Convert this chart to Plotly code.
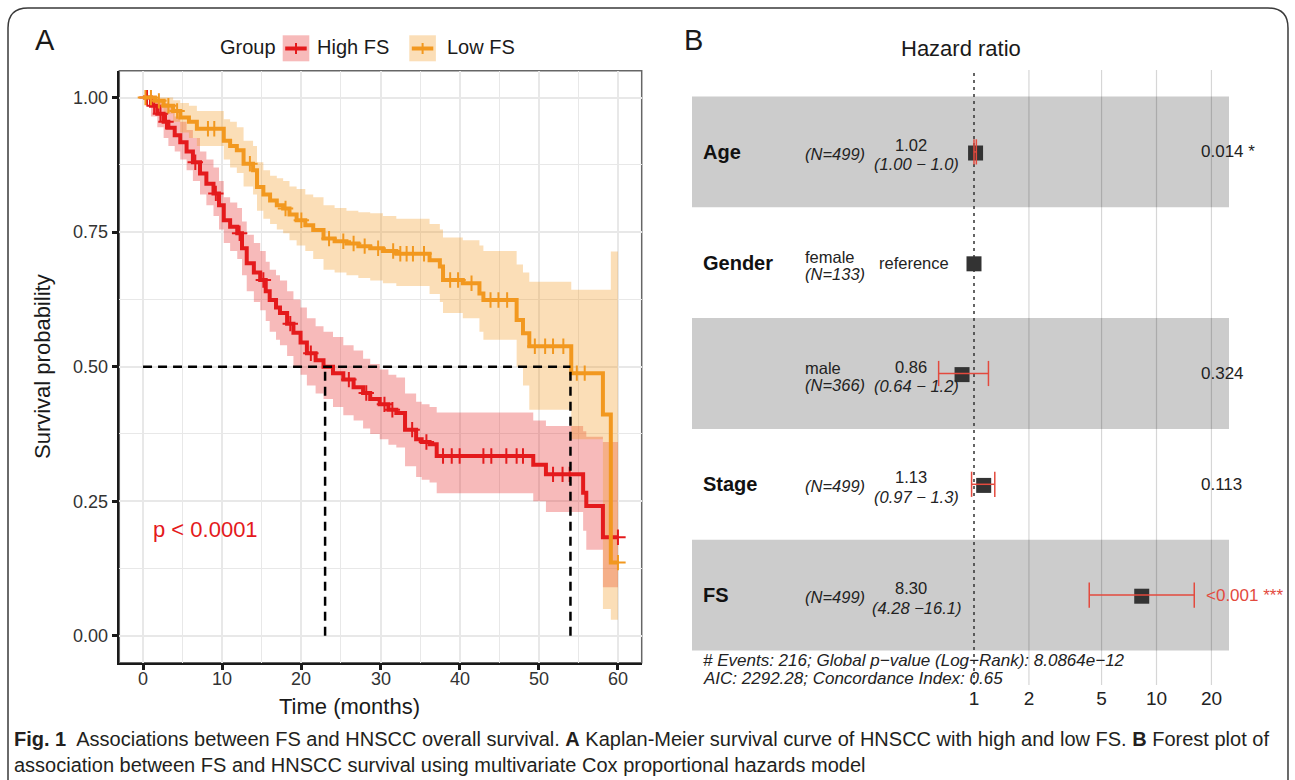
import numpy as np
import plotly.graph_objects as go

W, H = 1295, 780
FONT = "Liberation Sans, Arial, Helvetica, sans-serif"

# ---------------- Panel A : Kaplan-Meier data ----------------
t_end = 60
high_t = [0, 1.0, 1.8, 2.6, 3.2, 4.0, 4.7, 5.5, 6.3, 7.2, 8.0, 8.9, 9.6, 10.2, 11.0, 11.9, 12.5,
          13.1, 14.0, 14.8, 15.5, 16.0, 16.8, 17.3, 18.2, 19.0, 19.9, 20.7, 21.8, 22.8, 24.0,
          25.3, 26.6, 27.8, 28.7, 29.9, 31.0, 32.0, 33.1, 34.5, 35.2, 36.2, 37.1, 49.3, 50.9,
          55.6, 56.0, 58.1]
high_s = [1.0, 0.985, 0.97, 0.955, 0.944, 0.93, 0.917, 0.9, 0.88, 0.859, 0.84, 0.822, 0.8,
          0.772, 0.76, 0.748, 0.72, 0.692, 0.675, 0.661, 0.64, 0.624, 0.61, 0.6, 0.58, 0.563,
          0.545, 0.525, 0.512, 0.5, 0.488, 0.476, 0.462, 0.451, 0.44, 0.43, 0.42, 0.414, 0.383,
          0.365, 0.36, 0.356, 0.334, 0.318, 0.3, 0.266, 0.241, 0.183]
high_lo = [1.0, 0.965, 0.945, 0.925, 0.91, 0.9, 0.885, 0.865, 0.845, 0.82, 0.8, 0.78, 0.755,
           0.73, 0.715, 0.7, 0.67, 0.64, 0.62, 0.605, 0.585, 0.565, 0.55, 0.54, 0.52, 0.5,
           0.485, 0.465, 0.45, 0.44, 0.425, 0.41, 0.4, 0.385, 0.375, 0.365, 0.355, 0.35, 0.315,
           0.295, 0.29, 0.285, 0.265, 0.25, 0.23, 0.195, 0.16, 0.09]
high_hi = [1.0, 1.0, 0.995, 0.99, 0.98, 0.965, 0.955, 0.94, 0.925, 0.9, 0.885, 0.87, 0.845,
           0.815, 0.805, 0.795, 0.77, 0.745, 0.73, 0.715, 0.695, 0.68, 0.67, 0.66, 0.64, 0.625,
           0.61, 0.59, 0.575, 0.565, 0.555, 0.54, 0.53, 0.515, 0.505, 0.495, 0.485, 0.48, 0.45,
           0.435, 0.43, 0.425, 0.415, 0.4, 0.39, 0.38, 0.37, 0.36]
high_cens = [0.5, 1.4, 2.2, 2.9, 6.6, 9.2, 12.2, 15.2, 18.6, 21.2, 26.0, 28.2, 30.5, 31.5, 34.0,
             35.8, 37.9, 39.0, 40.0, 43.0, 44.0, 45.9, 47.2, 48.0, 51.8, 53.0, 53.9, 60.0]

low_t = [0, 1.5, 2.6, 3.8, 4.7, 5.8, 6.8, 10.2, 11.0, 11.85, 12.7, 13.9, 14.4, 15.2, 16.05,
         16.9, 17.7, 18.5, 19.4, 20.5, 21.5, 22.8, 24.2, 25.7, 27.2, 28.7, 30.3, 32.0, 36.2,
         37.5, 37.9, 40.4, 42.5, 43.0, 47.2, 48.0, 48.8, 54.1, 58.1, 59.1]
low_s = [1.0, 0.994, 0.985, 0.975, 0.963, 0.955, 0.942, 0.92, 0.91, 0.902, 0.877, 0.865, 0.834,
         0.82, 0.809, 0.80, 0.794, 0.783, 0.772, 0.763, 0.754, 0.738, 0.733, 0.729, 0.724, 0.72,
         0.715, 0.71, 0.698, 0.686, 0.661, 0.655, 0.636, 0.624, 0.587, 0.562, 0.538, 0.488,
         0.411, 0.136]
low_lo = [1.0, 0.985, 0.97, 0.955, 0.935, 0.925, 0.91, 0.885, 0.87, 0.86, 0.835, 0.82, 0.79,
          0.775, 0.765, 0.755, 0.748, 0.735, 0.725, 0.715, 0.70, 0.68, 0.675, 0.67, 0.665, 0.66,
          0.655, 0.65, 0.635, 0.62, 0.60, 0.59, 0.565, 0.55, 0.50, 0.465, 0.42, 0.365, 0.05,
          0.03]
low_hi = [1.0, 1.0, 1.0, 0.995, 0.99, 0.985, 0.975, 0.96, 0.955, 0.945, 0.92, 0.91, 0.88,
          0.865, 0.855, 0.85, 0.845, 0.835, 0.83, 0.82, 0.815, 0.80, 0.795, 0.79, 0.787, 0.785,
          0.78, 0.775, 0.765, 0.755, 0.74, 0.735, 0.725, 0.715, 0.69, 0.675, 0.658, 0.643,
          0.643, 0.714]
low_cens = [0.3, 1.0, 2.0, 3.2, 4.3, 8.2, 9.0, 13.5, 18.0, 20.0, 23.5, 25.3, 26.6, 28.0, 29.7,
            31.6, 32.5, 33.3, 34.1, 35.5, 38.8, 39.8, 41.5, 43.9, 44.9, 46.0, 49.5, 50.8, 51.8,
            53.1, 54.8, 55.8, 60.0]

median_high = 23
median_low = 54
median_surv = 0.5
p_text = "p < 0.0001"
x_ticks = [0, 10, 20, 30, 40, 50, 60]
y_ticks = [0, 0.25, 0.5, 0.75, 1.0]
y_ticklabels = ["0.00", "0.25", "0.50", "0.75", "1.00"]
groups = ["High FS", "Low FS"]

# ---------------- Panel B : Cox forest data ----------------
f_var = ["Age", "Gender", "", "Stage", "FS"]
f_level = ["", "female", "male", "", ""]
f_n = [499, 133, 366, 499, 499]
f_hr = [1.02, 1.0, 0.86, 1.13, 8.30]
f_lo = [1.00, None, 0.64, 0.97, 4.28]
f_hi = [1.03, None, 1.2, 1.3, 16.1]
f_hr_txt = ["1.02", "reference", "0.86", "1.13", "8.30"]
f_ci_txt = ["(1.00 \u2212 1.0)", "", "(0.64 \u2212 1.2)", "(0.97 \u2212 1.3)", "(4.28 \u221216.1)"]
f_p_txt = ["0.014 *", "", "0.324", "0.113", "<0.001 ***"]
hr_ticks = [1, 2, 5, 10, 20]
footer = ["# Events: 216; Global p\u2212value (Log\u2212Rank): 8.0864e\u221212",
          "AIC: 2292.28; Concordance Index: 0.65"]

RED = "#E41A1C"
ORANGE = "#F2981F"
RED_FILL = "rgba(228,26,28,0.30)"
OR_FILL = "rgba(242,152,31,0.32)"
CI_RED = "#E34A3E"

def py(p):
    return 1 - p / H

def pxf(p):
    return p / W

fig = go.Figure()

# ---- KM ribbons ----
for t, lo, hi, fill in [(high_t, high_lo, high_hi, RED_FILL), (low_t, low_lo, low_hi, OR_FILL)]:
    tx = list(t) + [t_end]
    fig.add_trace(go.Scatter(x=tx, y=list(lo) + [lo[-1]], mode="lines", line=dict(width=0, shape="hv"),
                             hoverinfo="skip", showlegend=False, xaxis="x", yaxis="y"))
    fig.add_trace(go.Scatter(x=tx, y=list(hi) + [hi[-1]], mode="lines", line=dict(width=0, shape="hv"),
                             fill="tonexty", fillcolor=fill, hoverinfo="skip", showlegend=False,
                             xaxis="x", yaxis="y"))

# ---- KM step curves + censor marks ----
for t, s, cens, col in [(high_t, high_s, high_cens, RED), (low_t, low_s, low_cens, ORANGE)]:
    fig.add_trace(go.Scatter(x=list(t) + [t_end], y=list(s) + [s[-1]], mode="lines",
                             line=dict(color=col, width=4, shape="hv"), showlegend=False,
                             xaxis="x", yaxis="y"))
    idx = np.searchsorted(np.array(t), np.array(cens), side="right") - 1
    cy = np.array(s)[idx]
    fig.add_trace(go.Scatter(x=cens, y=cy, mode="markers",
                             marker=dict(symbol="cross-thin", size=11, line=dict(color=col, width=2)),
                             showlegend=False, xaxis="x", yaxis="y"))

# ---- median lines ----
dash_style = dict(color="black", width=2.5, dash="9px,6px")
fig.add_trace(go.Scatter(x=[0, median_low], y=[median_surv, median_surv], mode="lines",
                         line=dash_style, showlegend=False, xaxis="x", yaxis="y"))
for m in [median_high, median_low]:
    fig.add_trace(go.Scatter(x=[m, m], y=[0, median_surv], mode="lines", line=dash_style,
                             showlegend=False, xaxis="x", yaxis="y"))

# ---------------- Panel B geometry (log10 units on x2, row index on y2) ----------------
X1PX, DEC = 974.0, 182.5        # pixel of HR=1, pixels per decade
ROW0, ROWH = 151.9, 110.8       # pixel of first row centre, row height

def lx(p):
    return (p - X1PX) / DEC

xb_range = [lx(690), lx(1290)]
yb_range = [(685 - ROW0) / ROWH, (70 - ROW0) / ROWH]

shapes = []
# alternating grey bands
for i in range(len(f_var)):
    if i % 2 == 0:
        shapes.append(dict(type="rect", xref="x2", yref="y2", x0=lx(692), x1=lx(1229),
                           y0=i - 0.5, y1=i + 0.5, fillcolor="#CCCCCC", line=dict(width=0),
                           layer="below"))

# grid lines at ticks (except 1) and dashed reference line
for v in hr_ticks[1:]:
    fig.add_trace(go.Scatter(x=[np.log10(v)] * 2, y=yb_range, mode="lines",
                             line=dict(color="rgba(0,0,0,0.16)", width=1.2), showlegend=False,
                             hoverinfo="skip", xaxis="x2", yaxis="y2"))
fig.add_trace(go.Scatter(x=[0, 0], y=[yb_range[0], yb_range[1] + 0.02], mode="lines",
                         line=dict(color="#333333", width=1.5, dash="3px,4px"), showlegend=False,
                         hoverinfo="skip", xaxis="x2", yaxis="y2"))

# squares
rows = list(range(len(f_var)))
fig.add_trace(go.Scatter(x=np.log10(f_hr), y=[r + 0.01 for r in rows], mode="markers",
                         marker=dict(symbol="square", size=15, color="#333333"),
                         showlegend=False, xaxis="x2", yaxis="y2"))
# CIs (drawn on top)
cx, cyy, capx, capy = [], [], [], []
for r, lo, hi in zip(rows, f_lo, f_hi):
    if lo is None:
        continue
    cx += [np.log10(lo), np.log10(hi), None]
    cyy += [r, r, None]
    capx += [np.log10(lo), np.log10(hi)]
    capy += [r, r]
fig.add_trace(go.Scatter(x=cx, y=cyy, mode="lines", line=dict(color=CI_RED, width=1.5),
                         showlegend=False, xaxis="x2", yaxis="y2"))
fig.add_trace(go.Scatter(x=capx, y=capy, mode="markers",
                         marker=dict(symbol="line-ns", size=18, line=dict(color=CI_RED, width=1.5)),
                         showlegend=False, xaxis="x2", yaxis="y2"))

annotations = []

def ann(text, x, y, size, color="#1a1a1a", xanchor="center", xref="paper", yref="paper",
        textangle=0, yanchor="middle"):
    annotations.append(dict(text=text, x=x, y=y, xref=xref, yref=yref, showarrow=False,
                            xanchor=xanchor, yanchor=yanchor, textangle=textangle, borderpad=0,
                            font=dict(family=FONT, size=size, color=color)))

FS_SMALL = 16.5
for i in rows:
    if f_var[i]:
        ann("<b>%s</b>" % f_var[i], pxf(702), i, 20, "#111111", "left", yref="y2")
    if f_level[i]:
        ann(f_level[i], pxf(804), i - 6 / ROWH, FS_SMALL, "#222222", "left", yref="y2")
        ann("<i>(N=%d)</i>" % f_n[i], pxf(804), i + 11.5 / ROWH, FS_SMALL, "#222222", "left", yref="y2")
    else:
        ann("<i>(N=%d)</i>" % f_n[i], pxf(804), i + 2 / ROWH, FS_SMALL, "#222222", "left", yref="y2")
    if f_ci_txt[i]:
        ann(f_hr_txt[i], pxf(911), i - 7 / ROWH, FS_SMALL, "#222222", "center", yref="y2")
        ann("<i>%s</i>" % f_ci_txt[i], pxf(916), i + 12.5 / ROWH, FS_SMALL, "#222222", "center", yref="y2")
    else:
        ann(f_hr_txt[i], pxf(914), i, FS_SMALL, "#222222", "center", yref="y2")
    if f_p_txt[i]:
        red = "***" in f_p_txt[i]
        ann(f_p_txt[i], pxf(1205 if red else 1200), i, 17, CI_RED if red else "#222222", "left",
            yref="y2")

ann("<i>%s</i>" % footer[0], pxf(702), py(660), 17, "#222222", "left")
ann("<i>%s</i>" % footer[1], pxf(702), py(678), 17, "#222222", "left")
ann("Hazard ratio", pxf(961), py(48), 22, "#1a1a1a")

# ---- Panel A texts ----
ann(p_text, 1.14, 0.197, 22, RED, "left", xref="x", yref="y")
ann("Survival probability", pxf(42), py(367), 22, "#1a1a1a", textangle=-90)
ann("Time (months)", pxf(349), py(706), 22, "#1a1a1a")
ann("A", pxf(45), py(40), 29, "#1a1a1a")
ann("B", pxf(693), py(40), 29, "#1a1a1a")
# x tick labels of panel A (placed at the tick values)
for v in x_ticks:
    ann(str(v), v, py(679), 18, "#333333", "center", xref="x")

# legend (Group)
ann("Group", pxf(277), py(47), 20, "#1a1a1a", "right")
ann(groups[0], pxf(316), py(47), 20, "#1a1a1a", "left")
ann(groups[1], pxf(446), py(47), 20, "#1a1a1a", "left")
for x0, fill, col in [(282.7, RED_FILL, RED), (409.3, OR_FILL, ORANGE)]:
    shapes.append(dict(type="rect", xref="paper", yref="paper", x0=pxf(x0), x1=pxf(x0 + 26.6),
                       y0=py(61.3), y1=py(35.3), fillcolor=fill, line=dict(width=0)))
    shapes.append(dict(type="line", xref="paper", yref="paper", x0=pxf(x0 + 2.5), x1=pxf(x0 + 24),
                       y0=py(48.5), y1=py(48.5), line=dict(color=col, width=4)))
    shapes.append(dict(type="line", xref="paper", yref="paper", x0=pxf(x0 + 13.3), x1=pxf(x0 + 13.3),
                       y0=py(43), y1=py(54), line=dict(color=col, width=2)))

# panel A border (top/right grey)
shapes.append(dict(type="rect", xref="x domain", yref="y domain", x0=0, x1=1, y0=0, y1=1,
                   line=dict(color="#666666", width=1.5), layer="below"))

# outer rounded frame
def P(x, y):
    return "%.5f,%.5f" % (x / W, 1 - y / H)
r = 20
L, T, R, B = 8, 8, 1288, 800
path = ("M " + P(L, B) + " L " + P(L, T + r) + " Q " + P(L, T) + " " + P(L + r, T) +
        " L " + P(R - r, T) + " Q " + P(R, T) + " " + P(R, T + r) + " L " + P(R, B))
shapes.append(dict(type="path", xref="paper", yref="paper", path=path,
                   line=dict(color="#3a3a3a", width=1.5)))

# caption
ann("<b>Fig. 1</b>  Associations between FS and HNSCC overall survival. <b>A</b> Kaplan-Meier "
    "survival curve of HNSCC with high and low FS. <b>B</b> Forest plot of",
    pxf(13), py(739), 20, "#231f20", "left")
ann("association between FS and HNSCC survival using multivariate Cox proportional hazards model",
    pxf(13), py(765), 20, "#231f20", "left")

grid = "#E8E8E8"
fig.update_layout(
    width=W, height=H, margin=dict(l=0, r=0, t=0, b=0), autosize=False,
    paper_bgcolor="white", plot_bgcolor="rgba(0,0,0,0)", showlegend=False,
    font=dict(family=FONT),
    xaxis=dict(domain=[pxf(119.3), pxf(641.7)], range=[-3, 63], tickvals=x_ticks,
               showticklabels=False,
               showgrid=True, gridcolor=grid, gridwidth=1.5, zeroline=False,
               minor=dict(dtick=5, tick0=0, showgrid=True, gridcolor=grid, gridwidth=1.2),
               showline=True, linecolor="#1a1a1a", linewidth=1.5, ticks="outside", ticklen=6,
               tickwidth=2.5, tickcolor="#1a1a1a"),
    yaxis=dict(domain=[py(662.7), py(70.7)], range=[-0.05, 1.05], tickvals=y_ticks,
               ticktext=y_ticklabels, showgrid=True, gridcolor=grid, gridwidth=1.5, zeroline=False,
               minor=dict(dtick=0.125, tick0=0, showgrid=True, gridcolor=grid, gridwidth=1.2),
               showline=True, linecolor="#1a1a1a", linewidth=1.5, ticks="outside", ticklen=6,
               tickwidth=2.5, tickcolor="#1a1a1a", tickfont=dict(size=18, color="#333333")),
    xaxis2=dict(domain=[pxf(690), pxf(1290)], range=xb_range, tickvals=np.log10(hr_ticks),
                ticktext=[str(v) for v in hr_ticks], showgrid=False, zeroline=False,
                showline=False, ticks="", tickfont=dict(size=19, color="#222222"),
                anchor="y2"),
    yaxis2=dict(domain=[py(685), py(70)], range=yb_range, showgrid=False, zeroline=False,
                showline=False, showticklabels=False, ticks="", anchor="x2"),
    shapes=shapes, annotations=annotations,
)

fig.write_html("out.html", config={"displayModeBar": False},
               post_script="document.body.style.margin='0px';document.body.style.padding='0px';"
                           "document.documentElement.style.overflow='hidden';")
